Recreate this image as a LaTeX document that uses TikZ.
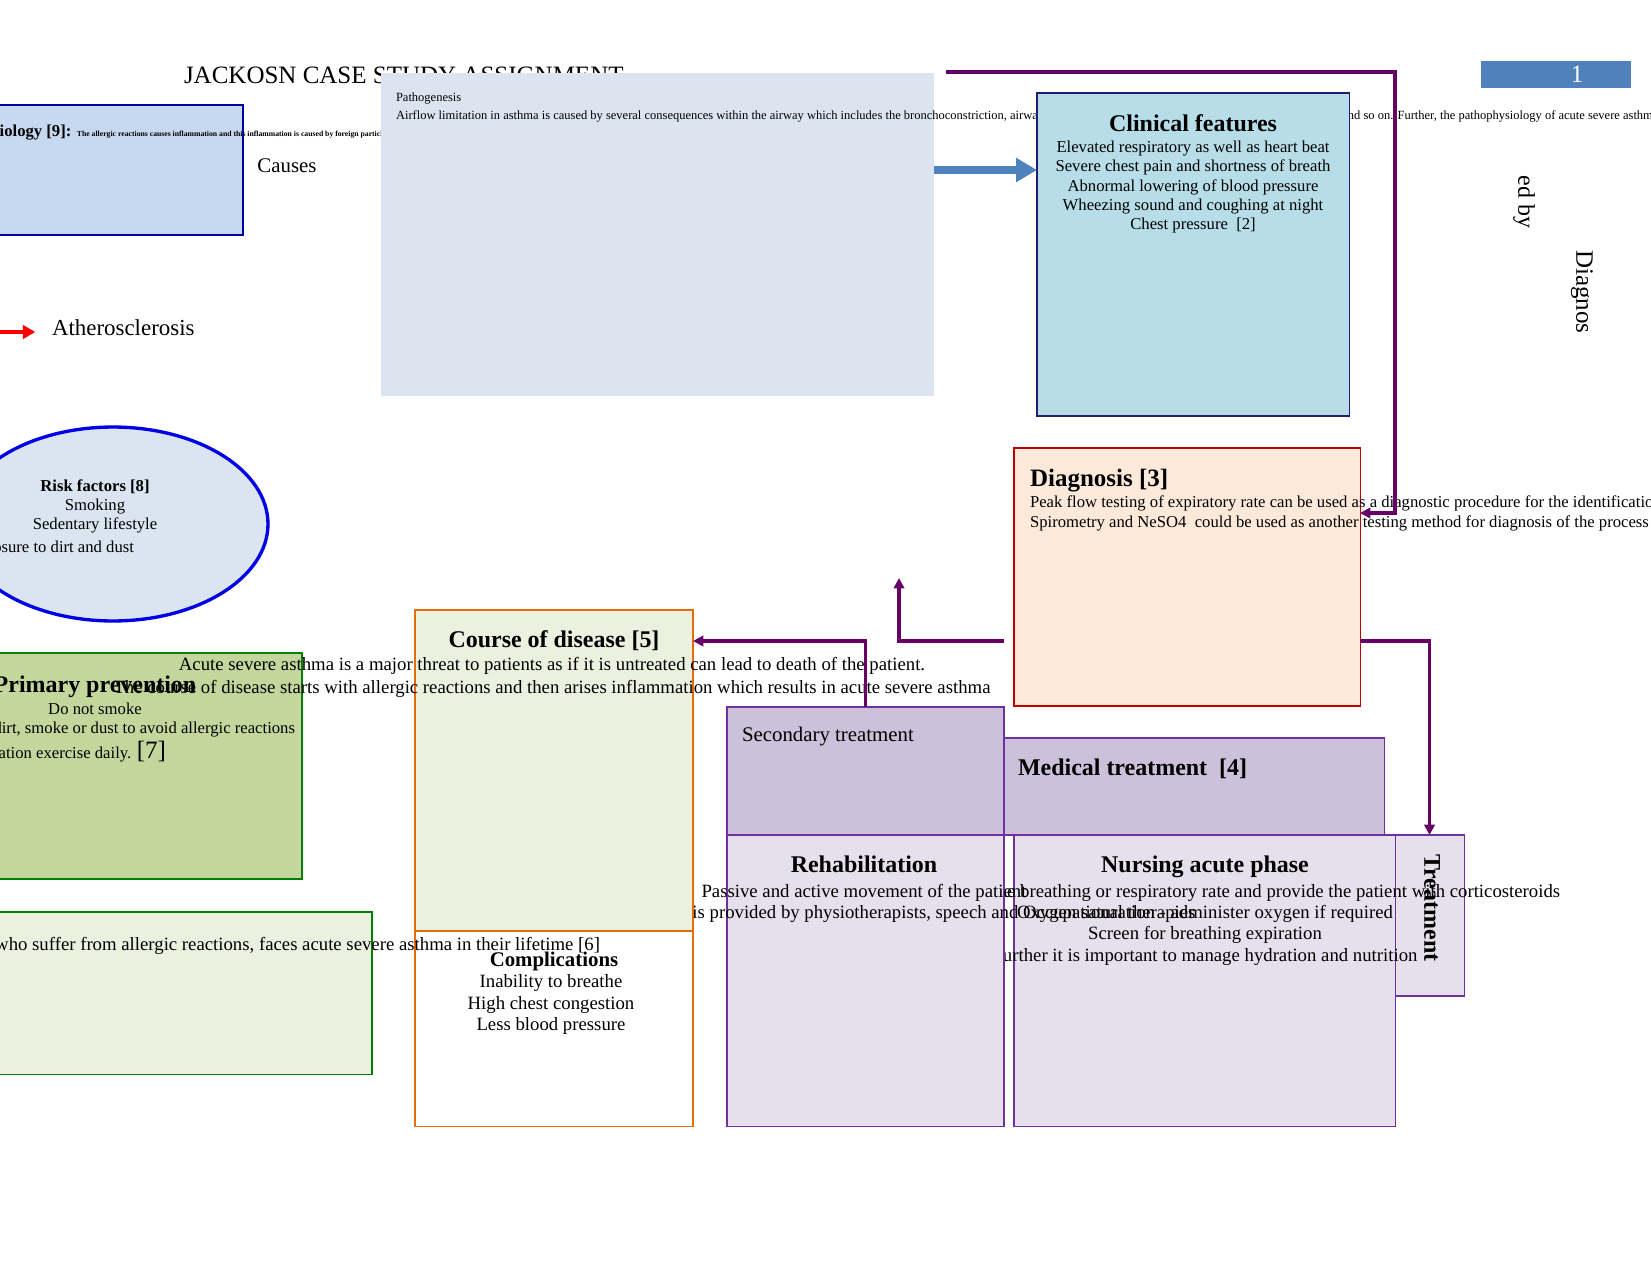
\documentclass[tikz,border=0pt]{standalone}
\usepackage{fontspec}
\setmainfont{Liberation Serif}
\usetikzlibrary{arrows.meta, shapes.geometric}
\definecolor{pathofill}{RGB}{220,228,240}
\definecolor{etiofill}{RGB}{198,217,241}
\definecolor{etioline}{RGB}{0,0,160}
\definecolor{clinfill}{RGB}{183,222,232}
\definecolor{clinline}{RGB}{31,31,110}
\definecolor{riskfill}{RGB}{219,229,241}
\definecolor{riskline}{RGB}{0,0,230}
\definecolor{primfill}{RGB}{195,214,155}
\definecolor{leafline}{RGB}{0,128,0}
\definecolor{coursefill}{RGB}{235,241,222}
\definecolor{courseline}{RGB}{228,108,10}
\definecolor{diagfill}{RGB}{253,233,217}
\definecolor{diagline}{RGB}{192,0,0}
\definecolor{treatfill}{RGB}{204,192,218}
\definecolor{carefill}{RGB}{229,224,236}
\definecolor{careline}{RGB}{112,48,160}
\definecolor{linkpurple}{RGB}{102,0,102}
\definecolor{pagebox}{RGB}{79,129,189}
\tikzset{
  panel/.style={draw, inner sep=0pt, outer sep=0pt, anchor=north west, line width=0.5pt},
  txt/.style={inner sep=0pt, outer sep=0pt},
  head/.style={txt, font=\fontsize{11.5}{13}\selectfont\bfseries},
  body/.style={txt, font=\fontsize{8}{9.6}\selectfont},
  prose/.style={txt, font=\fontsize{9}{11}\selectfont},
  link/.style={draw=linkpurple, line width=1.5pt, -{Triangle[length=5pt,width=5pt]}},
}
% box from (x1,y1) to (x2,y2), in pixels of the page
\newcommand{\panel}[6]{\node[panel,#6,minimum width={(#4-(#2))*0.48pt},minimum height={(#5-(#3))*0.48pt}] (#1) at (#2,#3) {};}

\begin{document}
\begin{tikzpicture}[x=0.48pt, y=-0.48pt]
  \useasboundingbox (0,0) rectangle (1651,1275);
  \clip (0,0) rectangle (1651,1275);

  % header
  \node[txt, anchor=base west, font=\fontsize{12}{14}\selectfont] (title) at (184,83.5) {JACKOSN CASE STUDY ASSIGNMENT};
  \panel{etio}{-10}{105}{243}{235}{fill=etiofill, draw=etioline}
  \node[txt, anchor=base west] (etiotext) at (-17,136.5) {{\fontsize{8}{9}\selectfont\bfseries Etiology [9]: }{\fontsize{3.7}{5}\selectfont\bfseries The allergic reactions causes inflammation and this inflammation is caused by foreign particles}};
  \node[txt, anchor=base, font=\fontsize{10}{12}\selectfont] (causes) at (287,172.5) {Causes};

  \panel{patho}{381}{73}{934}{396}{fill=pathofill, draw=none}
  \node[txt, anchor=base west, font=\fontsize{6}{7}\selectfont] (pathohead) at (396,101) {Pathogenesis};
  \node[txt, anchor=base west, font=\fontsize{6}{7}\selectfont] (pathotext) at (396,119) {Airflow limitation in asthma is caused by several consequences within the airway which includes the bronchoconstriction, airway inflammation, airway edema, hyperresponsiveness, mucus and so on. Further, the pathophysiology of acute severe asthma involves the airway};

  \panel{clin}{1037}{93}{1349}{416}{fill=clinfill, draw=clinline}
  \draw[draw=pagebox, line width=4pt, -{Triangle[length=10pt,width=11pt]}] (patho.east |- 0,170) -- (clin.west |- 0,170);
  \node[head, anchor=base] (clinhead) at (1193,131) {Clinical features};
  \foreach \ln [count=\i from 0] in {Elevated respiratory as well as heart beat, Severe chest pain and shortness of breath, Abnormal lowering of blood pressure, Wheezing sound and coughing at night, Chest pressure~~[2]}
    \node[body, anchor=base] (clin\i) at (1193,152.5+19.25*\i) {\ln};

  \panel{pagenum}{1481}{61}{1631}{88}{fill=pagebox, draw=none}
  \node[txt, anchor=base, text=white, font=\fontsize{12}{14}\selectfont] (pagetxt) at (1577,82) {1};
  \node[txt, rotate=-90, font=\fontsize{11.5}{13}\selectfont] (edby) at (1524,202) {ed by};
  \node[txt, rotate=-90, font=\fontsize{12}{14}\selectfont] (diagnos) at (1582,292) {Diagnos};

  % left column
  \node[txt, anchor=base west, font=\fontsize{11}{13}\selectfont] (athero) at (52,335) {Atherosclerosis};
  \coordinate (athstart) at (-10,332);
  \draw[red, line width=1.6pt, -{Triangle[length=6pt,width=6.5pt]}] (athstart) -- ([xshift=-8pt]athero.west |- athstart);

  \node[ellipse, draw=riskline, fill=riskfill, line width=1.6pt, minimum width=148.8pt, minimum height=93.1pt, inner sep=0pt] (risk) at (113,524) {};
  \node[body, anchor=base, font=\fontsize{8}{9.6}\selectfont\bfseries] (riskhead) at (95,491.5) {Risk factors [8]};
  \node[body, anchor=base] (risk1) at (95,510.5) {Smoking};
  \node[body, anchor=base] (risk2) at (95,529.5) {Sedentary lifestyle};
  \node[body, anchor=base east] (risk3) at (134,552.5) {Exposure to dirt and dust};

  \panel{diag}{1014}{448}{1360}{706}{fill=diagfill, draw=diagline}
  \node[txt, anchor=base west, font=\fontsize{12}{14}\selectfont\bfseries] (diaghead) at (1030,486.5) {Diagnosis [3]};
  \node[txt, anchor=base west, font=\fontsize{8}{10}\selectfont] (diag1) at (1030,507.5) {Peak flow testing of expiratory rate can be used as a diagnostic procedure for the identification of acute severe asthma};
  \node[txt, anchor=base west, font=\fontsize{8}{10}\selectfont] (diag2) at (1030,527.5) {Spirometry and NeSO4~~could be used as another testing method for diagnosis of the process};

  \panel{prim}{-10}{653}{302}{879}{fill=primfill, draw=leafline}
  \node[head, anchor=base] (primhead) at (95,692.5) {Primary prevention};
  \node[body, anchor=base] (prim1) at (95,714) {Do not smoke};
  \node[body, anchor=base east] (prim2) at (295,733) {Avoid exposure to dirt, smoke or dust to avoid allergic reactions};
  \node[body, anchor=base east] (prim3) at (166,758.5) {Perform relaxation exercise daily. {\fontsize{12}{14}\selectfont[7]}};

  % treatment blocks
  \panel{treat}{1395}{835}{1464}{996}{fill=carefill, draw=careline}
  \node[head, rotate=-90] (treathead) at (1432,908) {Treatment};
  \panel{second}{727}{707}{1004}{835}{fill=treatfill, draw=careline}
  \node[txt, anchor=base west, font=\fontsize{10}{12}\selectfont] (secondhead) at (742,741.5) {Secondary treatment};
  \panel{medic}{1004}{738}{1384}{835}{fill=treatfill, draw=careline}
  \node[head, anchor=base west] (medichead) at (1018,775.5) {Medical treatment~~[4]};

  \panel{nurse}{1014}{835}{1395}{1126}{fill=carefill, draw=careline}
  \node[head, anchor=base] (nursehead) at (1205,872) {Nursing acute phase};
  \foreach \ln [count=\i from 0] in {Regularly monitor the breathing or respiratory rate and provide the patient with corticosteroids, Oxygen saturation - administer oxygen if required, Screen for breathing expiration, Further it is important to manage hydration and nutrition}
    \node[prose, anchor=base] (nurse\i) at (1205,897+21.4*\i) {\ln};

  \panel{rehab}{727}{835}{1004}{1126}{fill=carefill, draw=careline}
  \node[head, anchor=base] (rehabhead) at (864,872) {Rehabilitation};
  \node[prose, anchor=base] (rehab1) at (864,897) {Passive and active movement of the patient};
  \node[prose, anchor=base] (rehab2) at (858,918.4) {Rehabilitation therapy is provided by physiotherapists, speech and Occupational therapies};

  % course of disease
  \panel{course}{415}{610}{693}{931}{fill=coursefill, draw=courseline}
  \panel{compl}{415}{931}{693}{1126}{fill=white, draw=courseline}
  \node[head, anchor=base] (coursehead) at (554,647) {Course of disease [5]};
  \node[prose, anchor=base] (course1) at (552,670.5) {Acute severe asthma is a major threat to patients as if it is untreated can lead to death of the patient.};
  \node[prose, anchor=base] (course2) at (552,693.5) {The course of disease starts with allergic reactions and then arises inflammation which results in acute severe asthma};
  \node[txt, anchor=base, font=\fontsize{10}{12}\selectfont\bfseries] (complhead) at (554,966.5) {Complications};
  \foreach \ln [count=\i from 0] in {Inability to breathe, High chest congestion, Less blood pressure}
    \node[prose, anchor=base] (compl\i) at (551,987.5+21.7*\i) {\ln};

  \panel{epid}{-10}{912}{372}{1074}{fill=coursefill, draw=leafline}
  \node[prose, anchor=base east] (epidtext) at (600,950) {Most of the people who suffer from allergic reactions, faces acute severe asthma in their lifetime [6]};

  % connectors
  \coordinate (topstart) at (946,72);
  \draw[link] (topstart) -| (treat.west |- 0,513) -- (diag.east |- 0,513);
  \draw[link] (second.north) -- (second.north |- 0,641) -- (course.east |- 0,641);
  \coordinate (upstart) at (1004,641);
  \coordinate (uptip) at (899,578);
  \draw[link] (upstart) -| (uptip);
  \draw[link] (diag.east |- 0,641) -| (treat.north);
\end{tikzpicture}
\end{document}
